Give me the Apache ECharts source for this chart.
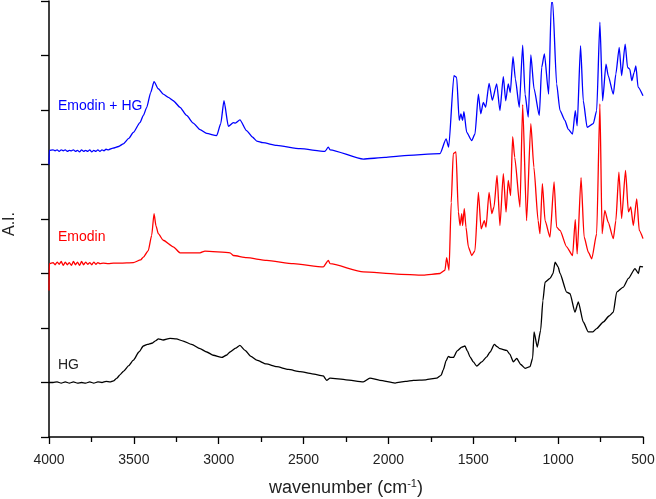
<!DOCTYPE html>
<html>
<head>
<meta charset="utf-8">
<script src="https://cdn.jsdelivr.net/npm/echarts@6/dist/echarts.min.js"></script>
<style>
html,body{margin:0;padding:0;background:#fff;}
#chart{width:656px;height:499px;}
</style>
</head>
<body>
<div id="chart"></div>
<script>
// x ticks
const xTicks = [4000, 3500, 3000, 2500, 2000, 1500, 1000, 500];

// HG (black)
const hgWn  = [4000,3976,3952,3928,3904,3880,3856,3832,3808,3784,3760,3736,3712,3688,3664,3640,3620,3600,3582,3560,3530,3503,3470,3444,3420,3395,3370,3356,3327,3287,3250,3209,3160,3110,3070,3032,2982,2955,2933,2900,2875,2845,2810,2776,2720,2658,2590,2521,2450,2384,2364,2344,2250,2148,2109,2050,1961,1900,1853,1780,1716,1690,1677,1660,1647,1635,1617,1595,1568,1549,1535,1519,1500,1480,1450,1421,1401,1376,1360,1343,1303,1285,1264,1244,1220,1195,1166,1150,1142,1123,1103,1090,1077,1048,1030,1018,1000,989,950,930,901,881,852,822,795,773,734,700,675,655,616,586,547,527,518,500];
const hgVal = [1.00,1.00,1.01,0.99,1.01,0.99,1.01,0.99,1.00,0.99,1.01,0.99,1.01,1.00,1.02,1.01,1.03,1.08,1.14,1.21,1.31,1.41,1.56,1.67,1.70,1.72,1.77,1.80,1.78,1.81,1.80,1.76,1.70,1.62,1.56,1.50,1.46,1.50,1.56,1.63,1.68,1.59,1.48,1.41,1.34,1.29,1.24,1.20,1.16,1.12,1.04,1.08,1.05,1.01,1.08,1.04,0.99,1.02,1.04,1.05,1.08,1.13,1.23,1.40,1.48,1.46,1.46,1.58,1.65,1.67,1.58,1.47,1.38,1.30,1.38,1.47,1.56,1.70,1.66,1.62,1.59,1.52,1.38,1.44,1.33,1.26,1.29,1.45,1.93,1.65,1.96,2.50,2.84,2.91,3.00,3.21,3.12,3.00,2.66,2.63,2.29,2.48,2.11,1.93,1.93,1.99,2.11,2.22,2.29,2.66,2.75,2.91,3.09,3.00,3.13,3.12];

// Emodin (red)
const emWn  = [4000,3998,3976,3964,3952,3940,3928,3916,3904,3892,3880,3868,3856,3844,3832,3820,3808,3796,3784,3772,3760,3748,3736,3724,3712,3700,3680,3650,3620,3580,3503,3460,3444,3415,3395,3381,3370,3356,3327,3268,3228,3110,3081,2933,2914,2836,2717,2560,2384,2354,2344,2148,1952,1795,1696,1667,1657,1643,1630,1618,1602,1588,1578,1568,1563,1553,1543,1529,1509,1490,1470,1454,1435,1425,1407,1391,1378,1360,1343,1323,1307,1294,1280,1268,1256,1225,1209,1186,1161,1143,1118,1107,1093,1077,1048,1024,1009,989,950,915,899,888,865,847,822,802,773,754,741,725,705,675,660,642,626,603,586,572,557,537,522,500];
const emVal = [2.69,3.18,3.20,3.16,3.21,3.17,3.22,3.15,3.21,3.16,3.20,3.15,3.22,3.16,3.21,3.15,3.22,3.16,3.21,3.17,3.20,3.16,3.21,3.17,3.20,3.18,3.19,3.18,3.19,3.19,3.20,3.25,3.30,3.42,3.70,4.10,3.88,3.73,3.61,3.49,3.38,3.38,3.41,3.38,3.33,3.29,3.24,3.18,3.12,3.24,3.18,3.03,2.99,2.97,3.00,3.06,3.29,3.06,4.30,5.20,5.23,4.13,3.88,4.10,3.88,4.19,3.85,3.49,3.33,3.42,4.49,3.82,3.97,3.85,4.49,4.10,4.22,4.80,3.88,4.83,4.13,4.71,4.43,5.51,5.13,4.22,6.10,3.97,5.75,4.95,3.97,3.73,4.65,3.97,3.67,4.68,3.85,3.79,3.49,3.33,3.99,3.36,4.76,3.67,3.39,3.27,3.73,6.11,3.73,4.16,3.94,3.64,3.97,4.86,4.01,4.89,4.13,4.22,3.88,4.37,3.79,3.64];

// Emodin + HG (blue)
const ehWn  = [4000,3998,3976,3964,3952,3940,3928,3916,3904,3892,3880,3868,3856,3844,3832,3820,3808,3796,3784,3772,3760,3748,3736,3724,3712,3700,3688,3676,3664,3650,3623,3590,3562,3530,3503,3464,3444,3424,3401,3381,3356,3327,3297,3268,3228,3189,3150,3110,3071,3012,2988,2969,2943,2914,2902,2875,2836,2800,2776,2740,2658,2521,2374,2354,2344,2148,2020,1922,1696,1660,1645,1614,1598,1583,1573,1563,1555,1539,1509,1490,1470,1456,1441,1427,1407,1388,1362,1343,1323,1309,1294,1282,1266,1252,1229,1209,1195,1176,1161,1142,1111,1097,1081,1056,1040,1032,1009,989,960,941,915,899,888,868,852,829,793,773,754,738,718,705,675,660,640,626,605,591,578,566,552,542,529,500];
const ehVal = [5.00,5.26,5.27,5.25,5.27,5.24,5.27,5.25,5.27,5.24,5.26,5.25,5.27,5.24,5.26,5.23,5.27,5.24,5.26,5.24,5.27,5.23,5.26,5.24,5.27,5.24,5.27,5.25,5.28,5.27,5.30,5.33,5.38,5.48,5.59,5.77,5.90,6.05,6.32,6.52,6.39,6.29,6.23,6.17,6.05,5.90,5.76,5.64,5.57,5.53,5.75,6.17,5.70,5.77,5.76,5.82,5.62,5.50,5.43,5.40,5.35,5.29,5.24,5.32,5.27,5.10,5.13,5.16,5.20,5.47,5.32,6.63,6.60,5.81,5.93,5.81,5.97,5.59,5.44,5.56,6.29,5.93,6.14,6.05,6.49,6.18,6.48,5.99,6.61,6.17,6.48,6.32,6.98,6.57,6.05,7.19,6.29,5.87,7.01,6.39,5.90,6.78,7.03,6.29,7.97,7.97,6.48,5.99,5.81,5.65,5.56,5.99,5.71,7.18,6.17,5.68,5.75,5.99,7.61,6.17,6.84,6.63,6.29,6.66,7.15,6.63,7.21,6.78,6.75,6.54,6.69,6.81,6.42,6.26];

const seriesNames = ['HG', 'Emodin', 'Emodin + HG'];
const seriesColors = ['#000000', '#ff0000', '#0000ff'];

function zip(a, b) { return a.map((v, i) => [v, b[i]]); }

const FONT = 'Liberation Sans, Arial, sans-serif';
const chart = echarts.init(document.getElementById('chart'), null, {renderer: 'canvas'});
const mk = (name, data, color) => ({
  name, type: 'line', data, showSymbol: false, symbol: 'none',
  smooth: 0.2, smoothMonotone: 'x',
  lineStyle: {color, width: 1.3}, itemStyle: {color}, animation: false, clip: true
});

chart.setOption({
  animation: false,
  grid: {left: 49, right: 13, top: 1, bottom: 62, containLabel: false, outerBoundsMode: 'none'},
  xAxis: {
    type: 'value', inverse: true, min: 500, max: 4000, interval: 500,
    axisLine: {show: true, lineStyle: {color: '#000', width: 1.5}},
    axisTick: {show: true, inside: false, length: 7, lineStyle: {color: '#000', width: 1.3}},
    minorTick: {show: true, splitNumber: 2, length: 5, lineStyle: {color: '#000', width: 1.3}},
    splitLine: {show: false},
    axisLabel: {color: '#222', fontSize: 14, fontFamily: FONT, margin: 16,
      formatter: v => (xTicks.indexOf(v) >= 0 ? String(v) : '')},
    name: 'wavenumber (cm{sup|-1})',
    nameLocation: 'middle', nameGap: 41,
    nameTextStyle: {color: '#222', fontSize: 18, fontFamily: FONT,
      rich: {sup: {fontSize: 11, fontFamily: FONT, color: '#222', padding: [0, 0, 9, 0]}}}
  },
  yAxis: {
    type: 'value', min: 0, max: 8, interval: 1,
    axisLine: {show: true, lineStyle: {color: '#000', width: 1.5}},
    axisTick: {show: true, inside: false, length: 8, lineStyle: {color: '#000', width: 1.3}},
    axisLabel: {show: false},
    splitLine: {show: false}
  },
  graphic: [
    {type: 'text', left: 2, top: 212, rotation: Math.PI / 2,
      style: {text: 'A.I.', fontSize: 16, fontFamily: FONT, fill: '#222'}},
    {type: 'text', left: 58, top: 99, style: {text: 'Emodin + HG', fontSize: 14, fontFamily: FONT, fill: '#0000ff'}},
    {type: 'text', left: 58, top: 230, style: {text: 'Emodin', fontSize: 14, fontFamily: FONT, fill: '#ff0000'}},
    {type: 'text', left: 58, top: 358, style: {text: 'HG', fontSize: 14, fontFamily: FONT, fill: '#222'}}
  ],
  series: [
    mk(seriesNames[0], zip(hgWn, hgVal), seriesColors[0]),
    mk(seriesNames[1], zip(emWn, emVal), seriesColors[1]),
    mk(seriesNames[2], zip(ehWn, ehVal), seriesColors[2])
  ]
});
</script>
</body>
</html>
